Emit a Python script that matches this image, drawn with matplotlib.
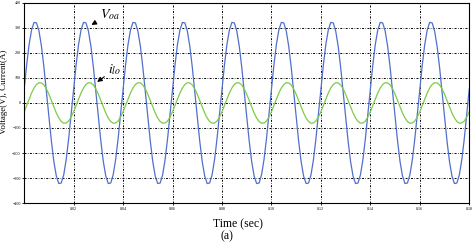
import numpy as np
import matplotlib
matplotlib.use('Agg')
import matplotlib.pyplot as plt

# data (20 samples per 0.02 s cycle)
dt_s = 0.001
v_oa = [
    56, 152, 234, 292, 322, 320, 287, 226, 142, 45, -56, -152, -234, -292, -322, -320, -287, -226, -142, -45,
    56, 152, 234, 292, 322, 320, 287, 226, 142, 45, -56, -152, -234, -292, -322, -320, -287, -226, -142, -45,
    56, 152, 234, 292, 322, 320, 287, 226, 142, 45, -56, -152, -234, -292, -322, -320, -287, -226, -142, -45,
    56, 152, 234, 292, 322, 320, 287, 226, 142, 45, -56, -152, -234, -292, -322, -320, -287, -226, -142, -45,
    56, 152, 234, 292, 322, 320, 287, 226, 142, 45, -56, -152, -234, -292, -322, -320, -287, -226, -142, -45,
    56, 152, 234, 292, 322, 320, 287, 226, 142, 45, -56, -152, -234, -292, -322, -320, -287, -226, -142, -45,
    56, 152, 234, 292, 322, 320, 287, 226, 142, 45, -56, -152, -234, -292, -322, -320, -287, -226, -142, -45,
    56, 152, 234, 292, 322, 320, 287, 226, 142, 45, -56, -152, -234, -292, -322, -320, -287, -226, -142, -45,
    56, 152, 234, 292, 322, 320, 287, 226, 142, 45, -56, -152, -234, -292, -322, -320, -287, -226, -142, -45,
    56,
]
i_lo = [
    -35, -10, 16, 40, 60, 74, 81, 80, 72, 56, 35, 10, -16, -40, -60, -74, -81, -80, -72, -56,
    -35, -10, 16, 40, 60, 74, 81, 80, 72, 56, 35, 10, -16, -40, -60, -74, -81, -80, -72, -56,
    -35, -10, 16, 40, 60, 74, 81, 80, 72, 56, 35, 10, -16, -40, -60, -74, -81, -80, -72, -56,
    -35, -10, 16, 40, 60, 74, 81, 80, 72, 56, 35, 10, -16, -40, -60, -74, -81, -80, -72, -56,
    -35, -10, 16, 40, 60, 74, 81, 80, 72, 56, 35, 10, -16, -40, -60, -74, -81, -80, -72, -56,
    -35, -10, 16, 40, 60, 74, 81, 80, 72, 56, 35, 10, -16, -40, -60, -74, -81, -80, -72, -56,
    -35, -10, 16, 40, 60, 74, 81, 80, 72, 56, 35, 10, -16, -40, -60, -74, -81, -80, -72, -56,
    -35, -10, 16, 40, 60, 74, 81, 80, 72, 56, 35, 10, -16, -40, -60, -74, -81, -80, -72, -56,
    -35, -10, 16, 40, 60, 74, 81, 80, 72, 56, 35, 10, -16, -40, -60, -74, -81, -80, -72, -56,
    -35,
]
x_ticks = [0.02, 0.04, 0.06, 0.08, 0.10, 0.12, 0.14, 0.16, 0.18]
y_ticks = [-400, -300, -200, -100, 0, 100, 200, 300, 400]

t = np.arange(len(v_oa)) * dt_s

plt.rcParams['font.family'] = ['Liberation Serif', 'DejaVu Serif']
plt.rcParams['mathtext.fontset'] = 'stix'

fig = plt.figure(figsize=(4.74, 2.42), dpi=100)
ax = fig.add_axes([0.051, 0.161, 0.939, 0.827])

ax.plot(t, v_oa, color='#5070cc', lw=0.9)
ax.plot(t, i_lo, color='#7ccc48', lw=0.9)

ax.set_xlim(0, 0.18)
ax.set_ylim(-400, 400)
ax.set_xticks(x_ticks)
ax.set_yticks(y_ticks)
ax.tick_params(labelsize=3, length=1.5, width=0.6, pad=1)
ax.grid(True, color='black', ls=(0, (2, 1.5, 0.6, 1.5)), lw=0.7)
for s in ax.spines.values():
    s.set_linewidth(0.8)

ax.set_xlabel('Time (sec)', fontsize=8.5)
ax.xaxis.set_label_coords(0.48, -0.075)
ax.set_ylabel('Voltage(V), Current(A)', fontsize=6.5)
ax.yaxis.set_label_coords(-0.036, 0.555)
fig.text(0.479, 0.025, '(a)', fontsize=8.5, ha='center', va='center')

# annotations
ax.annotate(r'$V_{oa}$', xy=(0.0272, 312), xytext=(0.0305, 355),
            fontsize=10, va='center',
            arrowprops=dict(arrowstyle='-|>', color='black', lw=0.8,
                            mutation_scale=7, shrinkA=1, shrinkB=0))
ax.annotate(r'$i_{lo}$', xy=(0.0295, 84), xytext=(0.034, 135),
            fontsize=10, va='center',
            arrowprops=dict(arrowstyle='-|>', color='black', lw=0.8,
                            mutation_scale=7, shrinkA=1, shrinkB=0))

fig.savefig('out.png', dpi=100)
